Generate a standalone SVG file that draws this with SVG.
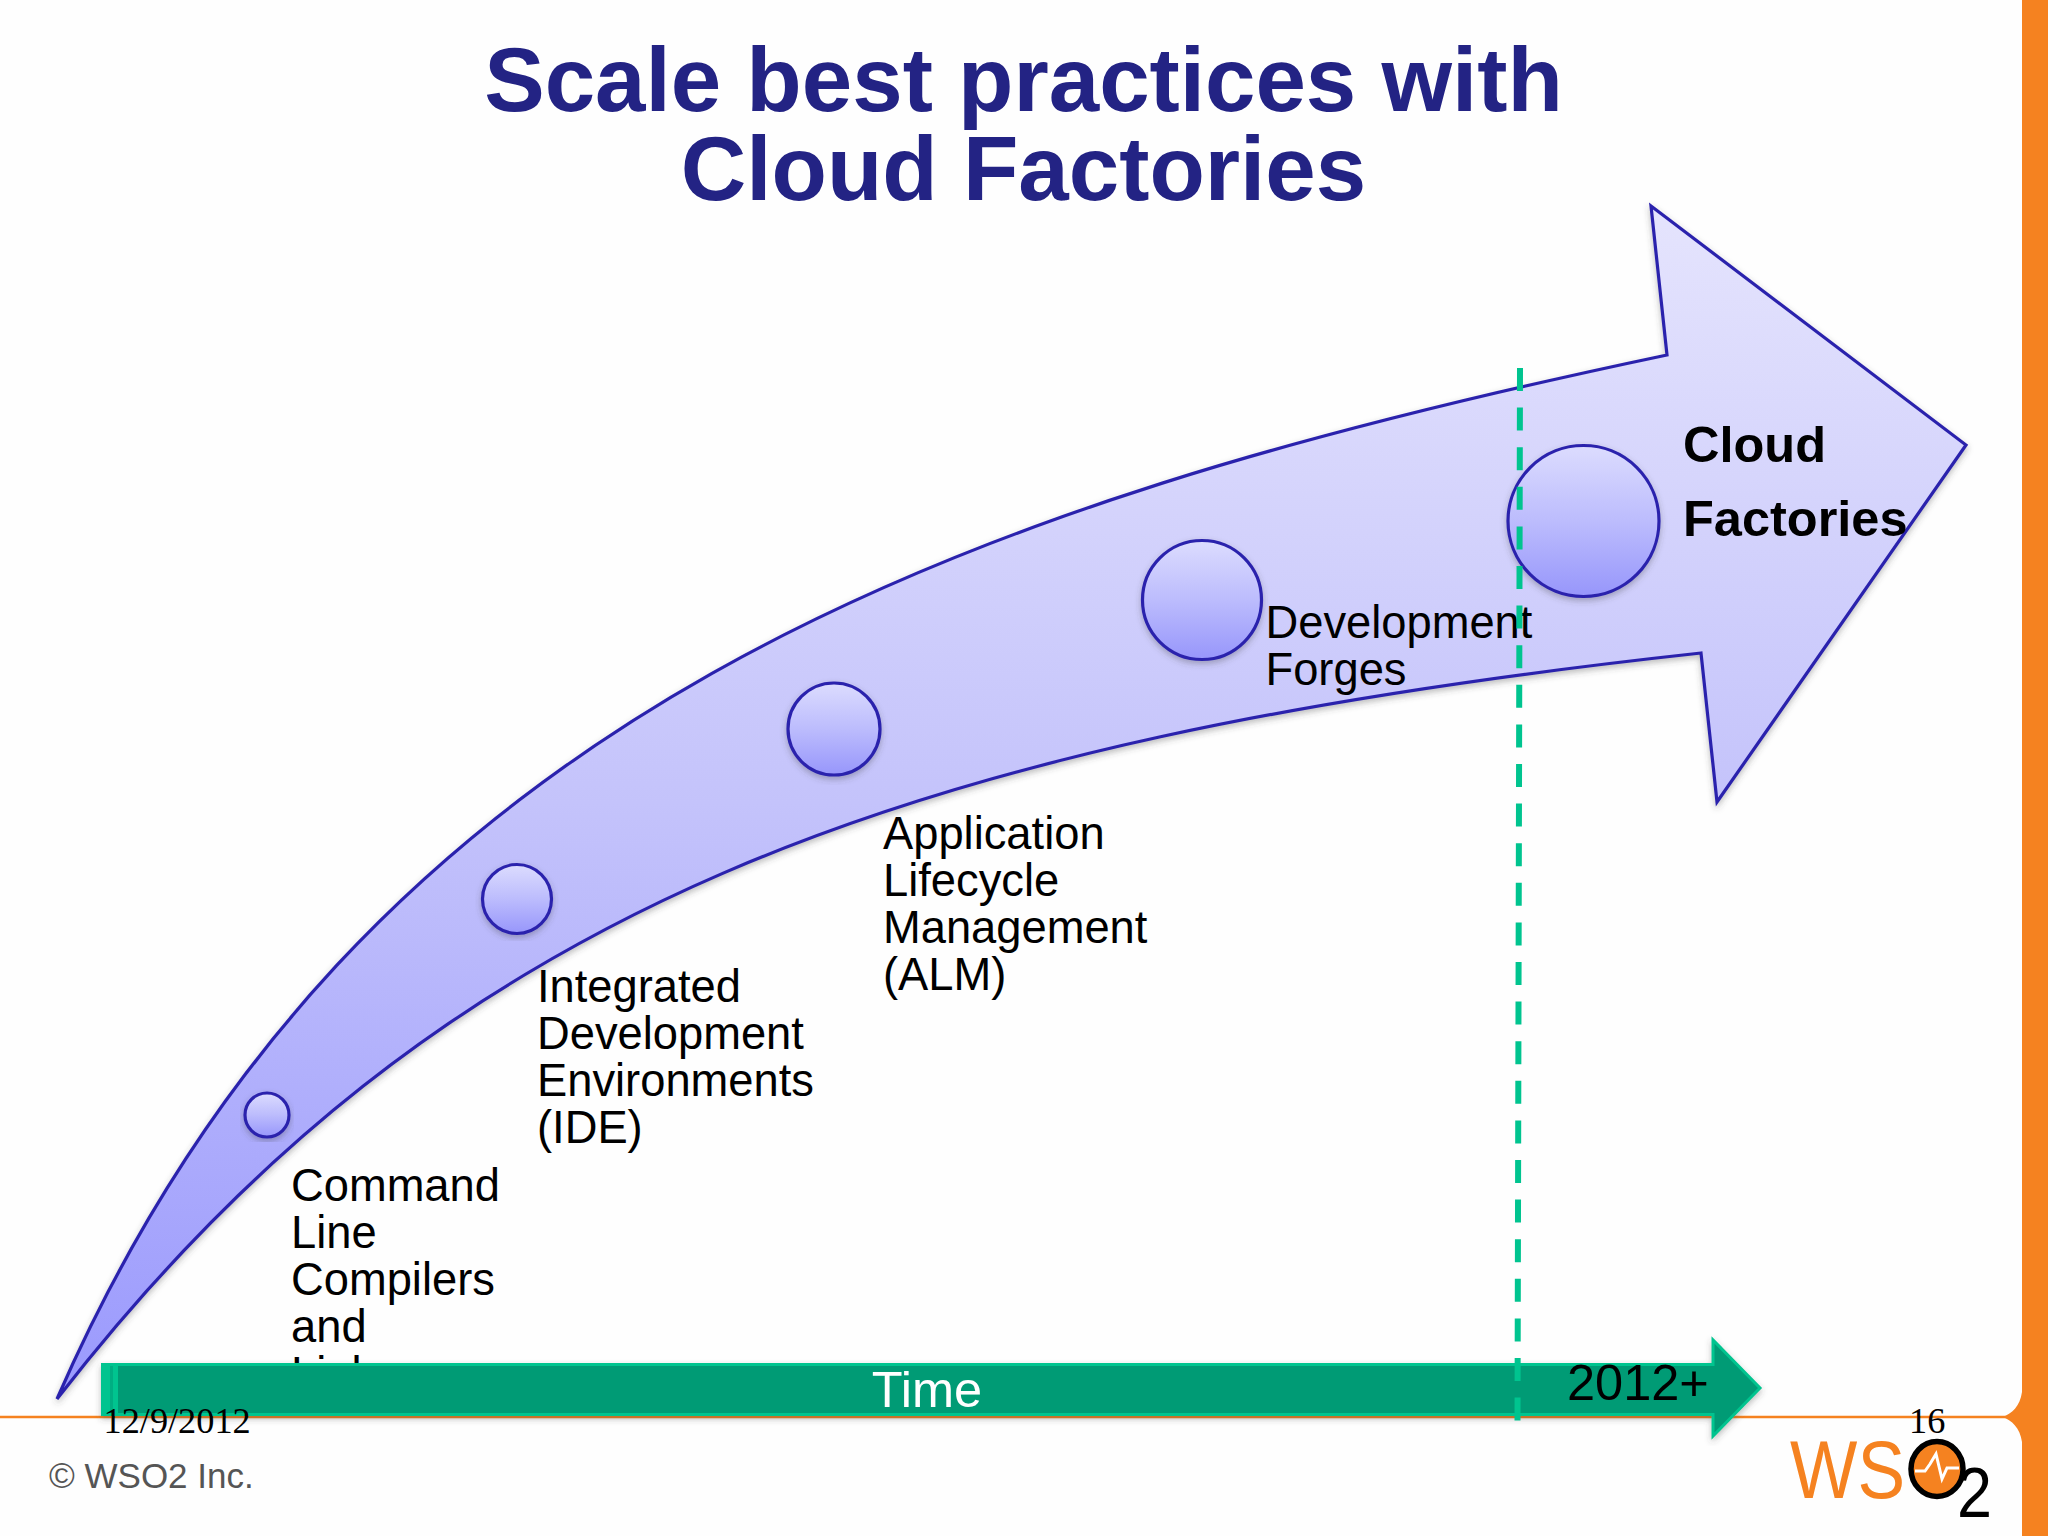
<svg xmlns="http://www.w3.org/2000/svg" width="2048" height="1536" viewBox="0 0 2048 1536">
<defs>
<linearGradient id="arrowFill" x1="0" y1="0" x2="0" y2="1"><stop offset="0" stop-color="#e5e4fd"/><stop offset="0.5" stop-color="#c4c3fb"/><stop offset="1" stop-color="#9a99fd"/></linearGradient>
<linearGradient id="ballFill" x1="0" y1="0" x2="0" y2="1"><stop offset="0" stop-color="#dcdcfe"/><stop offset="0.5" stop-color="#bcbcfd"/><stop offset="1" stop-color="#9796fb"/></linearGradient>
<filter id="shadow" x="-10%" y="-10%" width="120%" height="120%"><feDropShadow dx="0" dy="3" stdDeviation="3" flood-color="#404040" flood-opacity="0.35"/></filter>
</defs>
<style>
.sans{font-family:"Liberation Sans",Arial,sans-serif}
.serif{font-family:"Liberation Serif","Times New Roman",serif;font-size:36.300px;fill:#000}
.label{font-family:"Liberation Sans",Arial,sans-serif;font-size:45.300px;fill:#000}
.strong{font-family:"Liberation Sans",Arial,sans-serif;font-size:50.500px;font-weight:bold;fill:#000}
.title{font-family:"Liberation Sans",Arial,sans-serif;font-size:90.700px;font-weight:bold;fill:#232384;text-anchor:middle}
.ball{fill:url(#ballFill);stroke:#2c23ad;stroke-width:3.200;filter:url(#shadow)}
</style>
<rect width="2048" height="1536" fill="#fefefe"/>
<g id="frame">
<line x1="0" y1="1417" x2="2010" y2="1417" stroke="#f58220" stroke-width="2.5"/>
<path d="M2048 0H2022V1392C2020 1406 2012 1414 2002 1417C2012 1420 2020 1428 2022 1442V1536H2048Z" fill="#f58220"/>
</g>
<g id="title">
<text class="title" x="1023.500" y="111">Scale best practices with</text>
<text class="title" x="1023.500" y="200">Cloud Factories</text>
</g>
<g id="growth-arrow">
<path filter="url(#shadow)" fill="url(#arrowFill)" stroke="#2c23ad" stroke-width="3.200" stroke-linejoin="miter" d="M57 1399C357 709 967 502 1667 355L1651 206L1966 445L1717 802L1701 653C901 740 440 905 57 1399Z"/>
</g>
<g id="stage-cli">
<circle class="ball" cx="267" cy="1115" r="22"/>
<text class="label" x="291" y="1201">Command</text>
<text class="label" x="291" y="1248">Line</text>
<text class="label" x="291" y="1295">Compilers</text>
<text class="label" x="291" y="1342">and</text>
<text class="label" x="291" y="1389">Linkers</text>
</g>
<g id="stage-ide">
<circle class="ball" cx="517" cy="899" r="34.500"/>
<text class="label" x="537" y="1002">Integrated</text>
<text class="label" x="537" y="1049">Development</text>
<text class="label" x="537" y="1096">Environments</text>
<text class="label" x="537" y="1143">(IDE)</text>
</g>
<g id="stage-alm">
<circle class="ball" cx="834" cy="729" r="46"/>
<text class="label" x="883" y="849">Application</text>
<text class="label" x="883" y="896">Lifecycle</text>
<text class="label" x="883" y="943">Management</text>
<text class="label" x="883" y="990">(ALM)</text>
</g>
<g id="stage-forges">
<circle class="ball" cx="1202" cy="600" r="59.500"/>
<text class="label" x="1265.500" y="638">Development</text>
<text class="label" x="1265.500" y="685">Forges</text>
</g>
<g id="stage-cloud">
<circle class="ball" cx="1583.500" cy="521" r="75.500"/>
<text class="strong" x="1683" y="462">Cloud</text>
<text class="strong" x="1683" y="536">Factories</text>
</g>
<g id="time-arrow">
<path filter="url(#shadow)" fill="#009b74" stroke="#00c48f" stroke-width="3" d="M102.500 1364.500H1713V1340L1760 1388L1713 1436V1414.500H102.500Z"/>
<rect x="102" y="1365" width="16" height="49" fill="#00c48f"/>
<rect x="110" y="1366" width="3" height="47" fill="#00ae82"/>
<text class="sans" x="927" y="1407" font-size="50.500" fill="#fff" text-anchor="middle">Time</text>
<text class="sans" x="1567" y="1400" font-size="50.500" fill="#000">2012+</text>
</g>
<g id="connectors">
<line x1="1520" y1="368" x2="1517.500" y2="1427" stroke="#00c48f" stroke-width="6" stroke-dasharray="23 16.600"/>
</g>
<g id="footer">
<text class="serif" x="103.500" y="1433">12/9/2012</text>
<text class="serif" x="1909" y="1433">16</text>
<text class="sans" x="49" y="1488" font-size="35" fill="#555">© WSO2 Inc.</text>
</g>
<g id="logo">
<text class="sans" x="1790" y="1498" font-size="82" fill="#f58220" textLength="115" lengthAdjust="spacingAndGlyphs">WS</text>
<ellipse cx="1937" cy="1469" rx="26" ry="27.500" fill="#f58220" stroke="#000" stroke-width="5.500"/>
<polyline points="1915,1471 1925,1471 1930,1464 1936,1454 1942,1479 1947,1468 1959,1468" fill="none" stroke="#fff" stroke-width="3"/>
<text class="sans" x="1957" y="1517" font-size="70" fill="#000" textLength="35" lengthAdjust="spacingAndGlyphs">2</text>
</g>
</svg>
